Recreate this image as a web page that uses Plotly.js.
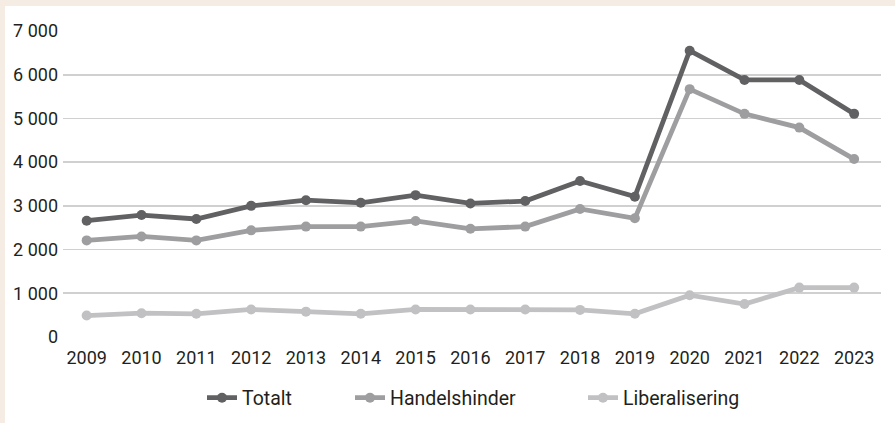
<!DOCTYPE html>
<html>
<head>
<meta charset="utf-8">
<script src="https://cdn.plot.ly/plotly-3.0.1.min.js"></script>
<style>
  html, body { margin: 0; padding: 0; background: #f5ede3; width: 895px; height: 423px; overflow: hidden; }
  #chart { position: absolute; left: 5px; top: 6px; width: 890px; height: 417px; background: #ffffff; }
</style>
</head>
<body>
<div id="chart"></div>
<script>
const years = ['2009','2010','2011','2012','2013','2014','2015','2016','2017','2018','2019','2020','2021','2022','2023'];
const totalt = [2660, 2790, 2700, 3000, 3130, 3070, 3245, 3055, 3110, 3570, 3210, 6550, 5880, 5880, 5105];
const handelshinder = [2210, 2300, 2210, 2440, 2525, 2525, 2655, 2475, 2525, 2930, 2715, 5670, 5105, 4790, 4070];
const liberalisering = [490, 545, 530, 630, 580, 530, 630, 630, 630, 620, 530, 955, 755, 1130, 1130];
const seriesNames = ['Totalt', 'Handelshinder', 'Liberalisering'];
const seriesColors = ['#616163', '#9e9ea0', '#c1c1c3'];
const yTickVals = [0, 1000, 2000, 3000, 4000, 5000, 6000, 7000];
const yTickText = ['0', '1 000', '2 000', '3 000', '4 000', '5 000', '6 000', '7 000'];

const legendIds = ['legend', 'legend2', 'legend3'];
const allSeries = [totalt, handelshinder, liberalisering];
const traces = allSeries.map((vals, i) => ({
  type: 'scatter',
  mode: 'lines+markers',
  x: years,
  y: vals,
  name: seriesNames[i],
  legend: legendIds[i],
  line: { color: seriesColors[i], width: 4.8 },
  marker: { color: seriesColors[i], size: 10 },
  cliponaxis: false
}));

const font = { family: 'Roboto, "Noto Sans", sans-serif', size: 18, color: '#231f20' };
const legendFont = { family: 'Roboto, "Noto Sans", sans-serif', size: 19.5, color: '#231f20' };

// plot area spans page x 63..881 (818 px); legend text starts near 246, 394, 627
const plotLeft = 63, plotW = 818;
const legendTextStarts = [246, 394, 627];
function legendBox(textStart) {
  return {
    orientation: 'h',
    x: (textStart - 44 - plotLeft) / plotW,
    xanchor: 'left',
    yref: 'container',
    y: 25 / 417,
    yanchor: 'middle',
    font: legendFont,
    bgcolor: 'rgba(0,0,0,0)'
  };
}

const layout = {
  width: 890,
  height: 417,
  margin: { l: 58, r: 14, t: 25, b: 86 },
  paper_bgcolor: '#ffffff',
  plot_bgcolor: '#ffffff',
  font: font,
  showlegend: true,
  legend: legendBox(legendTextStarts[0]),
  legend2: legendBox(legendTextStarts[1]),
  legend3: legendBox(legendTextStarts[2]),
  xaxis: {
    type: 'category',
    range: [-0.432, 14.49],
    showgrid: false,
    zeroline: false,
    showline: false,
    ticks: '',
    ticklabelstandoff: 8,
    tickfont: font,
    fixedrange: true
  },
  yaxis: {
    range: [0, 7000],
    tickvals: yTickVals,
    ticktext: yTickText,
    showgrid: true,
    gridcolor: '#d0d0d0',
    gridwidth: 1.6,
    zeroline: false,
    showline: false,
    ticks: '',
    ticklabelstandoff: 4,
    tickfont: font,
    fixedrange: true
  }
};

Plotly.newPlot('chart', traces, layout, { displayModeBar: false, staticPlot: true });
</script>
</body>
</html>
